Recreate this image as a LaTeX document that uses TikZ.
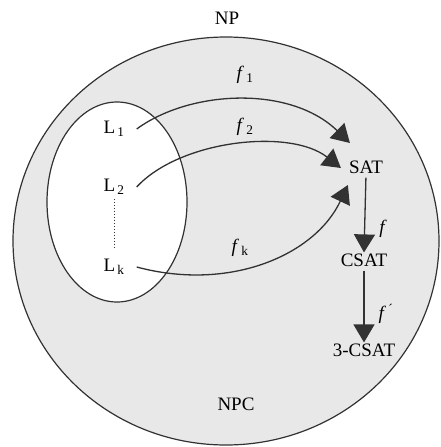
\documentclass[tikz,border=0pt]{standalone}
\usepackage{fontspec}
\setmainfont{Liberation Serif}
\usetikzlibrary{arrows.meta, positioning, calc}
\definecolor{cGray}{RGB}{232,232,232}
\definecolor{cLine}{RGB}{50,50,50}

\begin{document}
\begin{tikzpicture}[x=1pt, y=-1pt,
    lbl/.style={inner sep=1pt, font=\fontsize{19}{22}\selectfont},
    ln/.style={lbl, inner xsep=12pt},
    ar/.style={draw=cLine, line width=1.3pt, -{Triangle[length=18pt, width=21pt]}},
    rim/.style={draw=cLine, line width=1.2pt}]
  \useasboundingbox (0,0) rectangle (440,447);
  \draw[rim, fill=cGray] (226,241) ellipse [x radius=213pt, y radius=204pt];
  \draw[rim, fill=white] (117,202) ellipse [x radius=70pt, y radius=100pt];
  \node[lbl] (np)  at (227,18)  {NP};
  \node[lbl] (npc) at (236,404) {NPC};
  \node[ln] (L1) at (114,129) {L\textsubscript{\,1}};
  \node[ln] (L2) at (114,187) {L\textsubscript{\,2}};
  \node[ln] (Lk) at (114,267) {L\textsubscript{\,k}};
  \node[lbl] (SAT)   at (366,167) {SAT};
  \node[lbl] (CSAT)  at (364,260) {CSAT};
  \node[lbl] (CSAT3) at (364,350) {3-CSAT};
  \draw[cLine, dotted, line width=1pt, shorten <=3pt, shorten >=10pt] (L2.south) -- (Lk.north);
  \draw[ar] (L1.east) .. controls (190,90) and (290,85) .. ($(SAT.west)+(2,-24)$);
  \draw[ar] (L2.east) .. controls (180,140) and (290,128) .. ($(SAT.west)+(-7,1)$);
  \draw[ar] (Lk.east) .. controls (230,292) and (315,255) .. ($(SAT.west)+(0,18)$);
  \draw[ar, shorten <=3pt] (SAT.south) -- (CSAT.north);
  \draw[ar, shorten <=3pt] (CSAT.south) -- (CSAT3.north);
  \node[lbl] (f1) at (245,75)  {\textit{f}\textsubscript{\,1}};
  \node[lbl] (f2) at (245,127) {\textit{f}\textsubscript{\,2}};
  \node[lbl] (fk) at (240,248) {\textit{f}\textsubscript{\,k}};
  \node[lbl] (f)  at (383,229) {\textit{f}};
  \node[lbl] (fp) at (386,314) {\textit{f}\textsuperscript{\,\textasciiacute}};
\end{tikzpicture}
\end{document}
